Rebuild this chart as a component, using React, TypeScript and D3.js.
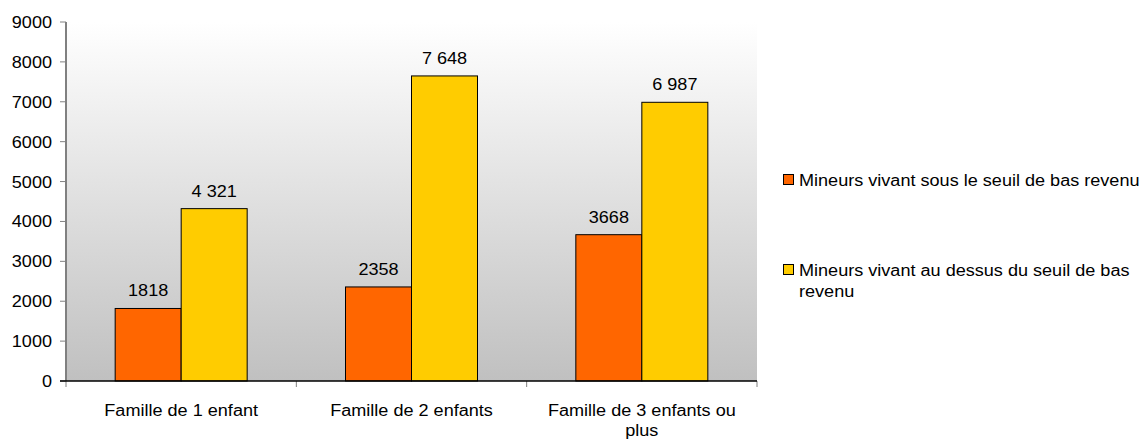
import React from "react";
import * as d3 from "d3";

const categories = ["Famille de 1 enfant", "Famille de 2 enfants", "Famille de 3 enfants ou plus"];
const categoryLines = [["Famille de 1 enfant"], ["Famille de 2 enfants"], ["Famille de 3 enfants ou", "plus"]];
const seriesNames = [
  "Mineurs vivant sous le seuil de bas revenu",
  "Mineurs vivant au dessus du seuil de bas revenu",
];
const seriesLegendLines = [
  ["Mineurs vivant sous le seuil de bas revenu"],
  ["Mineurs vivant au dessus du seuil de bas", "revenu"],
];
const belowValues = [1818, 2358, 3668];
const aboveValues = [4321, 7648, 6987];
const belowLabels = ["1818", "2358", "3668"];
const aboveLabels = ["4 321", "7 648", "6 987"];
const yTicks = [0, 1000, 2000, 3000, 4000, 5000, 6000, 7000, 8000, 9000];

const seriesValues = [belowValues, aboveValues];
const seriesLabels = [belowLabels, aboveLabels];
const colors = ["#FF6600", "#FFCC00"];

const W = 1148;
const H = 441;
const left = 66;
const right = 757;
const top = 22;
const bottom = 381;
const FONT = "'Liberation Sans', Arial, sans-serif";
const FS = 16;
const SX = 1.13;

function Txt({ x, y, anchor = "start", children }: { x: number; y: number; anchor?: string; children: any }) {
  return (
    <text
      transform={`translate(${x},${y}) scale(${SX},1)`}
      textAnchor={anchor as any}
      fontFamily={FONT}
      fontSize={FS}
      fill="#000"
    >
      {children}
    </text>
  );
}

export default function App() {
  const x = d3.scaleBand<string>().domain(categories).range([left, right]).paddingInner(0).paddingOuter(0);
  const bw = x.bandwidth();
  const barW = 66;
  const outer = (bw / barW - 2) / 2;
  const xs = d3.scaleBand<number>().domain([0, 1]).range([0, bw]).paddingInner(0).paddingOuter(outer);
  const y = d3.scaleLinear().domain([0, 9000]).range([bottom, top]);

  return (
    <svg width={W} height={H} style={{ position: "absolute", left: 0, top: 0, background: "#fff" }}>
      <defs>
        <linearGradient id="bg" x1="0" y1="0" x2="0" y2="1">
          <stop offset="0" stopColor="#ffffff" />
          <stop offset="1" stopColor="#c0c0c0" />
        </linearGradient>
      </defs>
      <rect x={left} y={top} width={right - left} height={bottom - top} fill="url(#bg)" />

      {seriesValues.map((vals, si) =>
        vals.map((v, ci) => {
          const bx = (x(categories[ci]) as number) + (xs(si) as number);
          return (
            <rect
              key={`b${si}-${ci}`}
              x={bx}
              y={y(v)}
              width={xs.bandwidth()}
              height={y(0) - y(v)}
              fill={colors[si]}
              stroke="#000"
              strokeWidth={1}
            />
          );
        })
      )}

      {seriesValues.map((vals, si) =>
        vals.map((v, ci) => {
          const bx = (x(categories[ci]) as number) + (xs(si) as number) + xs.bandwidth() / 2;
          return (
            <Txt key={`l${si}-${ci}`} x={bx} y={y(v) - 12} anchor="middle">
              {seriesLabels[si][ci]}
            </Txt>
          );
        })
      )}

      {/* y axis */}
      <line x1={left} x2={left} y1={top} y2={bottom} stroke="#808080" strokeWidth={2} />
      {yTicks.map((t) => (
        <g key={`yt${t}`}>
          <line x1={left - 6} x2={left} y1={y(t)} y2={y(t)} stroke="#808080" strokeWidth={1} />
          <Txt x={52} y={y(t) + 6} anchor="end">
            {String(t)}
          </Txt>
        </g>
      ))}

      {/* x axis */}
      {[...categories.map((c) => x(c) as number), right].map((px, i) => (
        <line key={`xt${i}`} x1={px} x2={px} y1={bottom} y2={bottom + 6} stroke="#808080" strokeWidth={1} />
      ))}
      <line x1={left - 6} x2={right} y1={bottom} y2={bottom} stroke="#000" strokeWidth={1.5} />
      {categoryLines.map((lines, ci) =>
        lines.map((ln, li) => (
          <Txt key={`xl${ci}-${li}`} x={(x(categories[ci]) as number) + bw / 2} y={416 + li * 20} anchor="middle">
            {ln}
          </Txt>
        ))
      )}

      {/* legend */}
      {seriesNames.map((name, si) => {
        const sy = si === 0 ? 174 : 264;
        return (
          <g key={`lg${si}`}>
            <rect x={783.5} y={sy + 0.5} width={10} height={10} fill={colors[si]} stroke="#000" strokeWidth={1} />
            {seriesLegendLines[si].map((ln, li) => (
              <Txt key={li} x={799} y={sy + 12 + li * 21}>
                {ln}
              </Txt>
            ))}
          </g>
        );
      })}
    </svg>
  );
}
